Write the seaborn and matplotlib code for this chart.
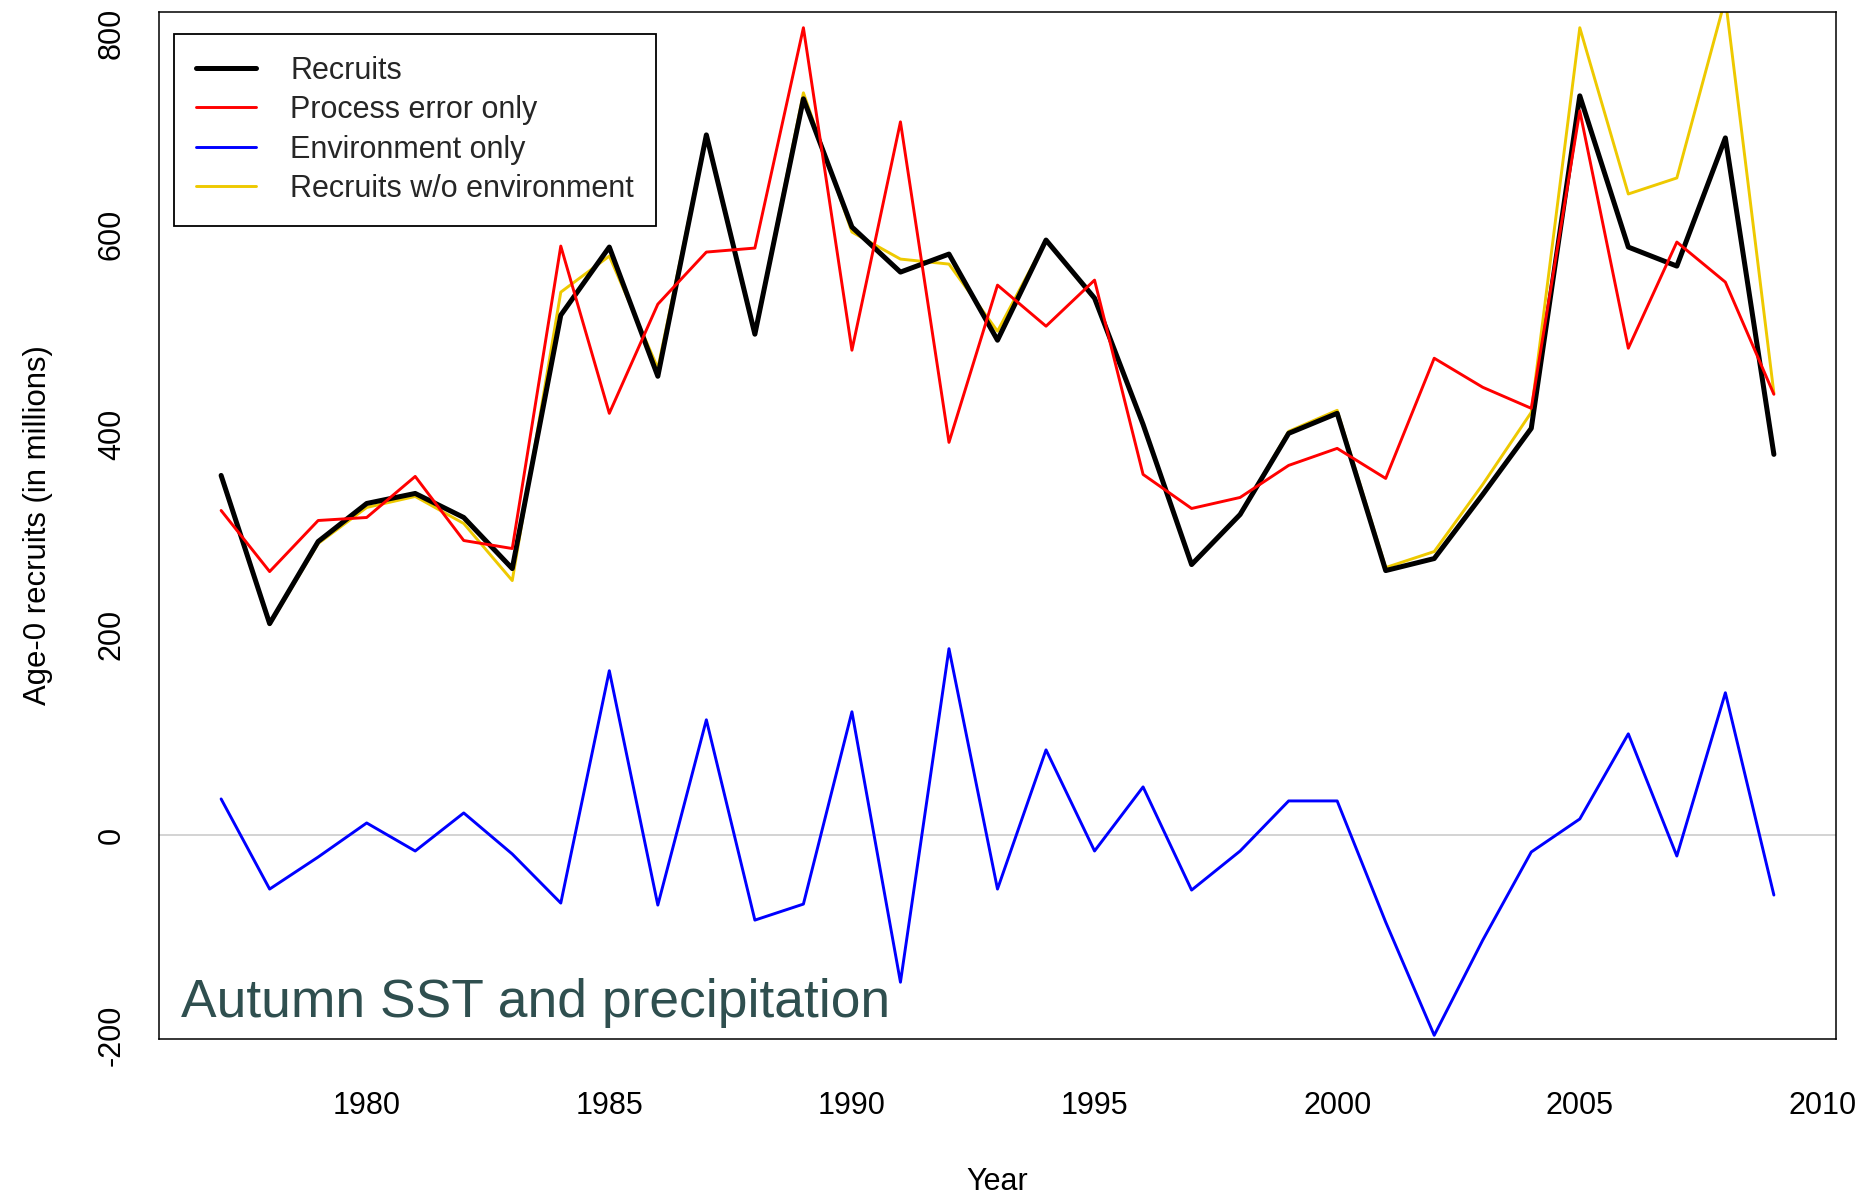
import matplotlib
matplotlib.use("Agg")
import matplotlib.pyplot as plt
import matplotlib.transforms as mtransforms
import seaborn as sns
import pandas as pd

years = list(range(1977, 2010))
recruits = [359, 211, 293, 331, 341, 317, 266, 519, 587, 458, 699, 500, 735, 607, 562, 580,
            494, 594, 536, 410, 270, 320, 401, 421, 264, 276, 340, 406, 738, 587, 568, 696, 380]
process_only = [324, 263, 314, 317, 358, 294, 286, 588, 421, 530, 582, 586, 806, 484, 712, 392,
                549, 508, 554, 360, 326, 337, 369, 386, 356, 476, 447, 426, 723, 486, 592, 552, 440]
environment_only = [36, -54, -22, 12, -16, 22, -19, -68, 164, -70, 115, -85, -69, 123, -147, 186,
                    -54, 85, -16, 48, -55, -16, 34, 34, -87, -200, -105, -17, 16, 101, -21, 142, -60]
recruits_wo_env = [358, 210, 291, 327, 338, 311, 254, 542, 578, 466, 699, 500, 741, 602, 575, 570,
                   503, 594, 535, 410, 270, 320, 403, 424, 267, 283, 350, 422, 806, 640, 656, 835, 441]

x_ticks = [1980, 1985, 1990, 1995, 2000, 2005, 2010]
y_ticks = [-200, 0, 200, 400, 600, 800]
annotation = "Autumn SST and precipitation"

sns.set_style("white")
plt.rcParams['font.family'] = ['Liberation Sans', 'DejaVu Sans']

W, H = 1876, 1194
fig = plt.figure(figsize=(W / 100, H / 100), dpi=100)
L, R, T, B = 159, 1836, 12, 1039
ax = fig.add_axes([L / W, 1 - B / H, (R - L) / W, (B - T) / H])

df = pd.DataFrame({"Year": years, "rec": recruits, "proc": process_only,
                   "env": environment_only, "wo": recruits_wo_env})

ax.axhline(0, color="#c8c8c8", lw=1.1, zorder=1)
sns.lineplot(data=df, x="Year", y="wo", ax=ax, color="#EEC900", linewidth=2.1, zorder=2,
             label="Recruits w/o environment")
sns.lineplot(data=df, x="Year", y="rec", ax=ax, color="black", linewidth=3.6, zorder=3,
             label="Recruits")
sns.lineplot(data=df, x="Year", y="proc", ax=ax, color="#FF0000", linewidth=2.1, zorder=4,
             label="Process error only")
sns.lineplot(data=df, x="Year", y="env", ax=ax, color="#0000FF", linewidth=2.1, zorder=4,
             label="Environment only")

ax.set_xlim(1975.72, 2010.28)
ax.set_ylim(-203.7, 821.7)
ax.set_xticks(x_ticks)
ax.set_yticks(y_ticks)
ax.set_xticklabels([str(v) for v in x_ticks])
ax.set_yticklabels([str(v) for v in y_ticks])

for sp in ax.spines.values():
    sp.set_color("black")
    sp.set_linewidth(1.1)

ax.tick_params(axis="both", direction="out", length=12.7, width=1.0, color="black",
               labelsize=22, labelcolor="black")
ax.tick_params(axis="x", pad=24.5)
ax.tick_params(axis="y", pad=10.5)
for lab in ax.get_yticklabels():
    lab.set_rotation(90)
    lab.set_verticalalignment("center")
    lab.set_horizontalalignment("right")

ax.set_xlabel("Year", fontsize=22, color="black")
ax.set_ylabel("Age-0 recruits (in millions)", fontsize=22.4, color="black")
ax.xaxis.set_label_coords(0.5, (B - 1181.5) / (B - T))
ax.xaxis.label.set_verticalalignment("center")
ax.yaxis.set_label_coords((37.8 - L) / (R - L), 0.5)
ax.yaxis.label.set_verticalalignment("center")

trans = mtransforms.blended_transform_factory(ax.transAxes, ax.transData)
ax.text(0.013, -181.5, annotation, transform=trans, fontsize=38.4, color="#2F4F4F",
        ha="left", va="baseline")

handles, labels = ax.get_legend_handles_labels()
order = ["Recruits", "Process error only", "Environment only", "Recruits w/o environment"]
hmap = dict(zip(labels, handles))
leg = ax.legend([hmap[k] for k in order], order, loc="upper left",
                bbox_to_anchor=((173.7 - L) / (R - L), (B - 33.7) / (B - T)),
                borderaxespad=0, fontsize=22, frameon=True, fancybox=False, shadow=False,
                framealpha=1, edgecolor="black", borderpad=0.72, labelspacing=0.31,
                handlelength=1.96, handletextpad=1.13)
leg.get_frame().set_linewidth(1.3)
leg.set_zorder(10)

fig.savefig("out.png", dpi=100)
